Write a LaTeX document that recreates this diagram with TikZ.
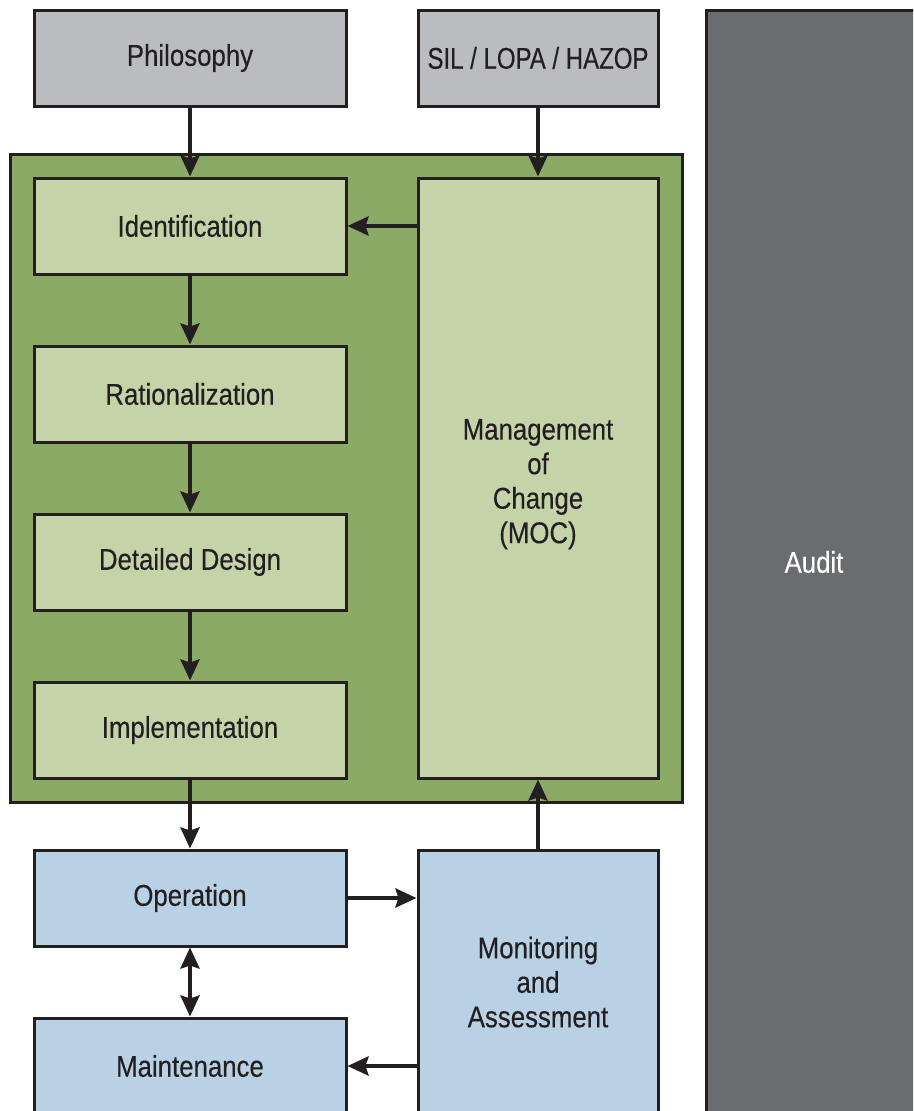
\documentclass[tikz,border=0pt]{standalone}
\usepackage{fontspec}
\setmainfont[FakeStretch=0.86,FakeBold=0.3]{Liberation Sans}
\usetikzlibrary{arrows.meta}
\definecolor{boxline}{HTML}{231F20}
\definecolor{inputgrey}{HTML}{BBBCC0}
\definecolor{panelgreen}{HTML}{8BAA66}
\definecolor{stagegreen}{HTML}{C5D4A8}
\definecolor{opsblue}{HTML}{B9D1E5}
\definecolor{auditgrey}{HTML}{6B6C70}
\begin{document}
\begin{tikzpicture}[y=-1pt,x=1pt]
            \tikzset{
                stage/.style={draw=boxline,line width=3pt,inner sep=0pt,align=center,
                    text=boxline,font=\fontsize{30}{34.5}\selectfont,
                    minimum width=312pt,minimum height=96pt},
                narrow/.style={minimum width=240pt},
                tip/.tip={Stealth[length=21pt,width=19pt,inset=3pt]},
                flow/.style={-tip,draw=boxline,line width=4pt},
                both/.style={tip-tip,draw=boxline,line width=4pt}
            }
            \useasboundingbox (0,0) rectangle (913,1111);
            \clip (0,0) rectangle (913,1111);

            \node[stage,fill=auditgrey,text=white,minimum width=216pt,minimum height=1104pt] (audit) at (814,562) {Audit};

            \node[stage,fill=inputgrey] (phil) at (190,58) {Philosophy};
            \node[stage,narrow,fill=inputgrey] (sil) at (538,58) {\addfontfeature{FakeStretch=0.8}SIL / LOPA / HAZOP};

            \node[stage,fill=panelgreen,minimum width=672pt,minimum height=648pt] (lifecycle) at (346,478) {};

            \node[stage,fill=stagegreen] (ident) at (190,226) {Identification};
            \node[stage,fill=stagegreen] (ration) at (190,394) {Rationalization};
            \node[stage,fill=stagegreen] (design) at (190,562) {Detailed Design};
            \node[stage,fill=stagegreen] (impl) at (190,730) {Implementation};
            \node[stage,narrow,fill=stagegreen,minimum height=600pt] (moc) at (538,478) {\rule{0pt}{33pt}Management\\of\\Change\\(MOC)};

            \node[stage,fill=opsblue] (oper) at (190,898) {Operation};
            \node[stage,fill=opsblue] (maint) at (190,1066) {Maintenance};
            \node[stage,narrow,fill=opsblue,minimum height=264pt] (monit) at (538,982) {Monitoring\\and\\Assessment};

            \draw[flow] (phil) -- (ident);
            \draw[flow] (sil) -- (moc);
            \draw[flow] (ident -| moc.west) -- (ident);
            \draw[flow] (ident) -- (ration);
            \draw[flow] (ration) -- (design);
            \draw[flow] (design) -- (impl);
            \draw[flow] (impl) -- (oper);
            \draw[flow] (monit) -- (moc);
            \draw[flow] (oper) -- (oper -| monit.west);
            \draw[flow] (maint -| monit.west) -- (maint);
            \draw[both] (oper) -- (maint);
        \end{tikzpicture}
\end{document}
